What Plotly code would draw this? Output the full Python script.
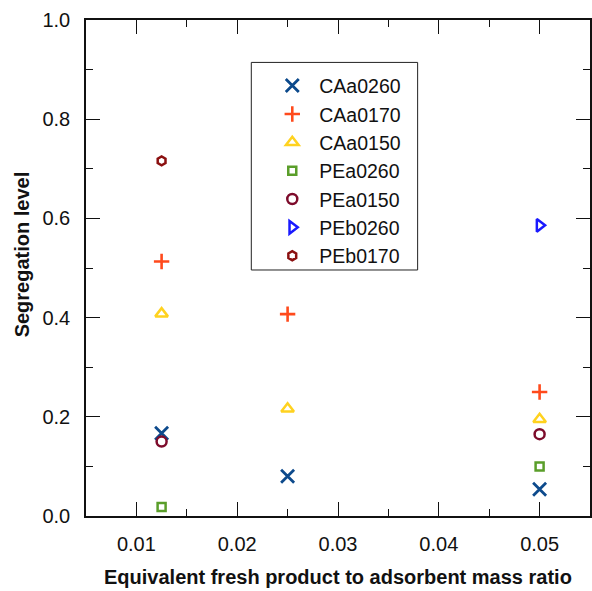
import plotly.graph_objects as go

series_names = ["CAa0260", "CAa0170", "CAa0150", "PEa0260", "PEa0150", "PEb0260", "PEb0170"]
series_x = {
    "CAa0260": [0.0125, 0.025, 0.05],
    "CAa0170": [0.0125, 0.025, 0.05],
    "CAa0150": [0.0125, 0.025, 0.05],
    "PEa0260": [0.0125, 0.05],
    "PEa0150": [0.0125, 0.05],
    "PEb0260": [0.05],
    "PEb0170": [0.0125],
}
series_y = {
    "CAa0260": [0.167, 0.080, 0.054],
    "CAa0170": [0.513, 0.407, 0.250],
    "CAa0150": [0.408, 0.216, 0.195],
    "PEa0260": [0.018, 0.100],
    "PEa0150": [0.150, 0.165],
    "PEb0260": [0.586],
    "PEb0170": [0.716],
}
colors = {
    "CAa0260": "#0d4a8c",
    "CAa0170": "#ff4a1c",
    "CAa0150": "#ffd21f",
    "PEa0260": "#5a9e2a",
    "PEa0150": "#7d0b2b",
    "PEb0260": "#1a1aff",
    "PEb0170": "#8b1010",
}
symbols = {
    "CAa0260": ("x-thin-open", 13, 2.8),
    "CAa0170": ("cross-thin-open", 11, 2.6),
    "CAa0150": ("triangle-up-open", 11, 2.5),
    "PEa0260": ("square-open", 8, 2.5),
    "PEa0150": ("circle-open", 10, 2.5),
    "PEb0260": ("triangle-right-open", 11, 2.5),
    "PEb0170": ("hexagon-open", 9, 2.5),
}

x_tickvals = [0.01, 0.02, 0.03, 0.04, 0.05]
y_tickvals = [0.0, 0.2, 0.4, 0.6, 0.8, 1.0]

FONT = "Liberation Sans, Arial, sans-serif"

fig = go.Figure()
for name in series_names:
    sym, sz, lw = symbols[name]
    fig.add_trace(go.Scatter(
        x=series_x[name], y=series_y[name], mode="markers", name=name,
        marker=dict(symbol=sym, size=sz, color=colors[name],
                    line=dict(color=colors[name], width=lw)),
    ))

axis_common = dict(
    showline=True, linecolor="#111", linewidth=1.5, mirror="ticks",
    ticks="inside", ticklen=14, tickwidth=1, tickcolor="#111",
    showgrid=False, zeroline=False,
    tickfont=dict(family=FONT, size=20, color="#111"),
)

fig.update_xaxes(
    range=[0.005, 0.055], tickvals=x_tickvals, tickformat=".2f",
    minor=dict(ticks="inside", ticklen=7, tickwidth=1, tickcolor="#111", dtick=0.005, tick0=0),
    ticklabelstandoff=9,
    **axis_common,
)
fig.update_yaxes(
    range=[0, 1.0], tickvals=y_tickvals, tickformat=".1f",
    minor=dict(ticks="inside", ticklen=7, tickwidth=1, tickcolor="#111", dtick=0.1, tick0=0),
    ticklabelstandoff=10,
    **axis_common,
)

fig.update_layout(
    width=592, height=591,
    margin=dict(l=86, r=0, t=19.5, b=74.5),
    paper_bgcolor="white", plot_bgcolor="white",
    showlegend=True,
    legend=dict(x=0.3557, y=0.9064, xanchor="left", yanchor="top",
                bgcolor="rgba(0,0,0,0)", borderwidth=0,
                font=dict(family=FONT, size=19.5, color="#111"),
                itemwidth=44, tracegroupgap=0),
    annotations=[
        dict(text="<b>Equivalent fresh product to adsorbent mass ratio</b>",
             xref="paper", yref="paper", x=0.5, y=-0.1237, xanchor="center", yanchor="middle",
             showarrow=False, font=dict(family=FONT, size=20, color="#111")),
        dict(text="<b>Segregation level</b>", textangle=-90,
             xref="paper", yref="paper", x=-0.1265, y=0.528, xanchor="center", yanchor="middle",
             showarrow=False, font=dict(family=FONT, size=20, color="#111")),
    ],
    shapes=[dict(type="rect", xref="paper", yref="paper",
                 x0=0.328, x1=0.658, y0=(516.5 - 270) / 497, y1=(516.5 - 62) / 497,
                 line=dict(color="#222", width=1), fillcolor="rgba(0,0,0,0)")],
)

fig.write_html("out.html", config={"displayModeBar": False},
               post_script="document.body.style.margin='0';document.body.style.padding='0';")
